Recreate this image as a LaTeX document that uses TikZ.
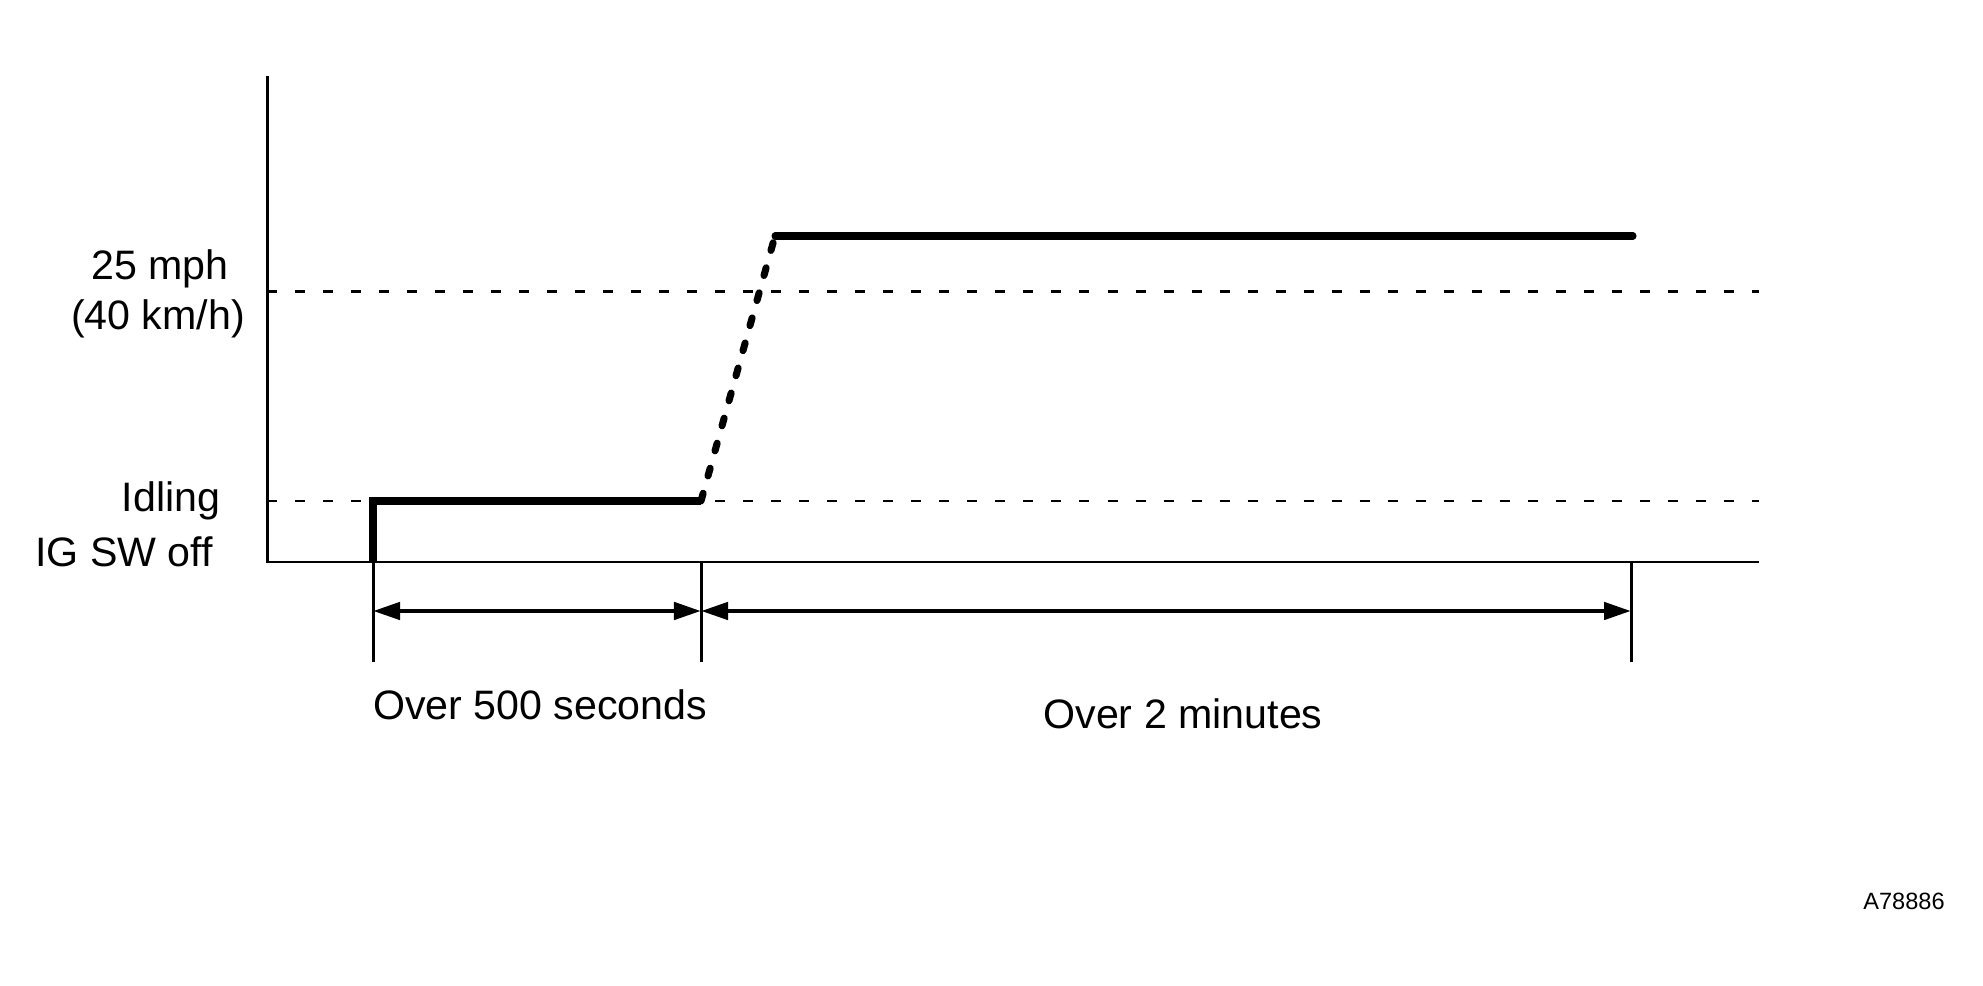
\documentclass[tikz,border=0pt]{standalone}
\usepackage{fontspec}
\setmainfont{Liberation Sans}
\usetikzlibrary{arrows.meta}

\begin{document}
\begin{tikzpicture}[x=0.01cm, y=-0.01cm, line width=0.85pt,
  guide/.style={dash pattern=on 0.1cm off 0.18cm},
  speed/.style={line width=2pt, line cap=round},
  ramp/.style={speed, dash pattern=on 0.08cm off 0.18cm},
  span/.style={line width=1.3pt, {Triangle[length=0.27cm,width=0.17cm]}-{Triangle[length=0.27cm,width=0.17cm]}},
  lbl/.style={font=\fontsize{11.7}{14}\selectfont, inner sep=0pt, anchor=base}]
\useasboundingbox (0,0) rectangle (1983,986);
% axes
\coordinate (top) at (267,76);
\coordinate (origin) at (267,562);
\coordinate (xend) at (1759,562);
\draw (top) -- (origin) -- (xend);
% levels
\coordinate (hi0) at (267,292);
\coordinate (hi1) at (1759,292);
\coordinate (idle0) at (267,501);
\coordinate (idle1) at (1759,501);
\draw[guide] (hi0) -- (hi1);
\draw[guide] (idle0) -- (idle1);
% speed curve
\coordinate (s0) at (373,562);
\coordinate (s1) at (373,501);
\coordinate (s2) at (701,501);
\coordinate (s3) at (775,236);
\coordinate (s4) at (1633,236);
\draw[speed, line cap=butt] (s0) -- (s1) -- (s2);
\draw[ramp] (s2) -- (s3);
\draw[speed] (s3) -- (s4);
% time marks
\coordinate (k0) at (373,662);
\coordinate (k1) at (701,662);
\coordinate (k2) at (1631,662);
\coordinate (m1) at (701,562);
\coordinate (m2) at (1631,562);
\draw (s0) -- (k0);
\draw (m1) -- (k1);
\draw (m2) -- (k2);
\coordinate (a0) at (373,611);
\coordinate (a1) at (701,611);
\coordinate (a2) at (1631,611);
\draw[span] (a0) -- (a1);
\draw[span] (a1) -- (a2);
% labels
\node[lbl] (mph) at (160,280) {25 mph};
\node[lbl] (kmh) at (158,330) {(40 km/h)};
\node[lbl] (idling) at (171,512) {Idling};
\node[lbl] (igoff) at (124,567) {IG SW off};
\node[lbl] (first) at (540,719) {Over 500 seconds};
\node[lbl] (second) at (1183,728) {Over 2 minutes};
\node[lbl, font=\fontsize{6.7}{8}\selectfont] (code) at (1904,909) {A78886};
\end{tikzpicture}
\end{document}
